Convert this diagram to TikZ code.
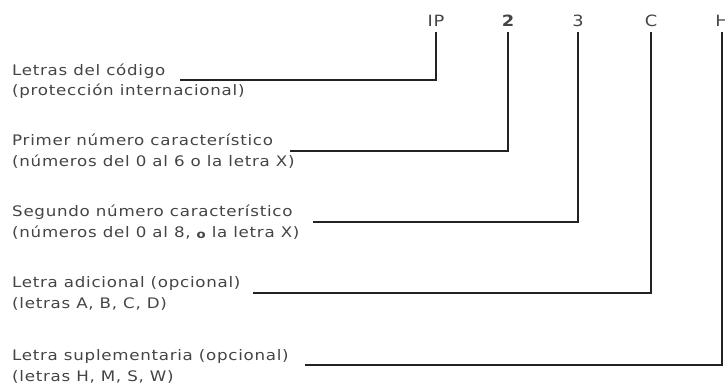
\documentclass[tikz,border=0pt]{standalone}
\usepackage{fontspec}
\newfontfamily\lblfont[FakeStretch=1.15,LetterSpace=5]{DejaVu Sans}
\usetikzlibrary{calc}
\definecolor{txt}{HTML}{444444}
\definecolor{ln}{HTML}{222222}
\tikzset{
  lbl/.style={inner sep=0pt, anchor=base west, text=txt, font=\lblfont\fontsize{14.5}{17}\selectfont},
  toplbl/.style={inner sep=0pt, outer ysep=5pt, anchor=base, text=txt, font=\lblfont\fontsize{15.5}{18}\selectfont},
  conn/.style={draw=ln, line width=1.3pt}
}
\begin{document}
\begin{tikzpicture}[x=1pt,y=-1pt]
\useasboundingbox (0,0) rectangle (725,388);
% top code letters
\node[toplbl] (ip) at (436,27) {IP};
\node[toplbl] (n2) at (508,27) {\bfseries 2};
\node[toplbl] (n3) at (578,27) {3};
\node[toplbl] (lc) at (651,27) {C};
\node[toplbl] (lh) at (722,27) {H};
% descriptions
\node[lbl] (t1) at (12,75) {Letras del código};
\node[lbl] (u1) at (12,95) {(protección internacional)};
\node[lbl] (t2) at (12,145) {Primer número característico};
\node[lbl] (u2) at (12,166) {(números del 0 al 6 o la letra X)};
\node[lbl] (t3) at (12,216) {Segundo número característico};
\node[lbl] (u3) at (12,237) {(números del 0 al 8, \raisebox{-1.5pt}{\fontsize{11.5}{12}\selectfont\bfseries o} la letra X)};
\node[lbl] (t4) at (12,287) {Letra adicional (opcional)};
\node[lbl] (u4) at (12,308) {(letras A, B, C, D)};
\node[lbl] (t5) at (12,360) {Letra suplementaria (opcional)};
\node[lbl] (u5) at (12,381) {(letras H, M, S, W)};
% connector start points
\coordinate (s1) at (180,80);
\coordinate (s2) at (290,151);
\coordinate (s3) at (313,222);
\coordinate (s4) at (253,293);
\coordinate (s5) at (305,365);
% connectors
\draw[conn] (s1) -| (ip);
\draw[conn] (s2) -| (n2);
\draw[conn] (s3) -| (n3);
\draw[conn] (s4) -| (lc);
\draw[conn] (s5) -| (lh);
\end{tikzpicture}
\end{document}
